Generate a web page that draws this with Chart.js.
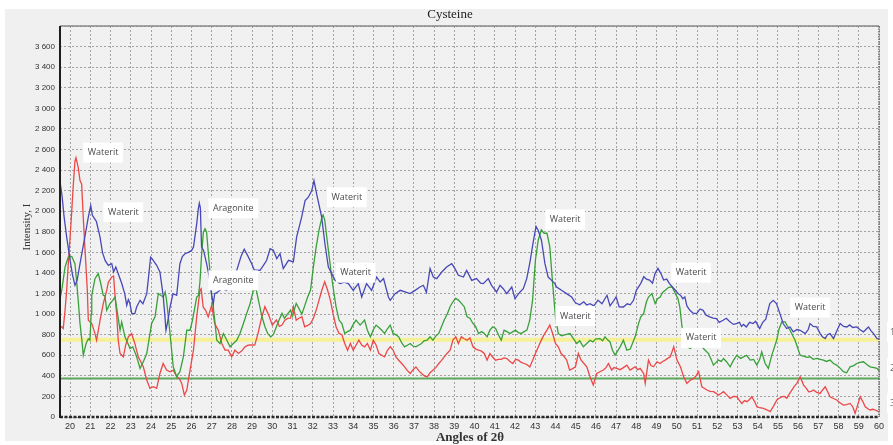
<!DOCTYPE html>
<html>
<head>
<meta charset="utf-8">
<title>Cysteine</title>
<script src="https://cdn.jsdelivr.net/npm/chart.js@4.4.1/dist/chart.umd.min.js"></script>
<style>
  html, body { margin: 0; padding: 0; background: #ffffff; }
  canvas { display: block; }
</style>
</head>
<body>
<canvas id="chart" width="893" height="445" style="width:893px;height:445px"></canvas>
<script>
// Diffraction scans, angle 2θ (degrees) against intensity I
const blueAngle = [19.52,19.6,19.7,19.83,20.0,20.12,20.24,20.35,20.49,20.7,20.9,21.02,21.1,21.2,21.3,21.48,21.6,21.73,21.89,22.06,22.15,22.26,22.35,22.55,22.7,22.8,22.88,22.95,23.05,23.2,23.29,23.46,23.6,23.79,23.9,23.98,24.05,24.28,24.44,24.6,24.68,24.74,24.85,24.94,25.09,25.27,25.43,25.55,25.68,25.85,26.01,26.1,26.26,26.34,26.39,26.44,26.5,26.6,26.75,26.88,27.0,27.08,27.15,27.3,27.41,27.5,27.74,28.0,28.24,28.45,28.61,28.75,28.98,29.1,29.39,29.56,29.72,29.89,30.05,30.22,30.38,30.54,30.8,31.04,31.2,31.45,31.62,31.78,31.95,32.06,32.19,32.44,32.6,32.77,32.94,33.1,33.35,33.55,33.76,34.0,34.25,34.42,34.66,34.91,35.16,35.33,35.5,35.74,35.83,36.07,36.32,36.56,36.81,37.06,37.3,37.47,37.62,37.8,37.96,38.13,38.38,38.62,38.87,39.03,39.2,39.45,39.61,39.86,40.1,40.3,40.43,40.68,40.84,41.09,41.26,41.42,41.59,41.84,42.0,42.25,42.41,42.58,42.74,42.9,43.04,43.15,43.31,43.48,43.64,43.81,43.97,44.06,44.3,44.55,44.8,44.99,45.2,45.4,45.55,45.71,45.9,46.1,46.3,46.55,46.7,46.85,47.0,47.15,47.36,47.55,47.7,47.86,48.0,48.22,48.37,48.5,48.65,48.8,48.93,49.07,49.21,49.35,49.5,49.63,49.77,49.92,50.06,50.2,50.3,50.4,50.5,50.65,50.8,50.98,51.15,51.3,51.45,51.63,51.8,51.96,52.1,52.29,52.45,52.6,52.8,52.95,53.1,53.2,53.3,53.44,53.6,53.77,53.9,54.1,54.25,54.4,54.6,54.77,54.93,55.1,55.26,55.43,55.6,55.76,55.95,56.1,56.35,56.5,56.59,56.75,56.92,57.09,57.2,57.34,57.45,57.58,57.75,57.9,58.08,58.25,58.41,58.55,58.7,58.9,59.05,59.23,59.35,59.48,59.6,59.73,59.9,60.0];
const blueIntensity = [2260,2150,1950,1748,1522,1380,1280,1330,1490,1720,1942,2055,1960,1930,1900,1748,1600,1522,1474,1490,1409,1457,1409,1300,1200,1086,1140,1110,1005,1005,1069,1134,1101,1199,1400,1554,1540,1474,1409,1182,1000,843,950,1069,1199,1182,1490,1560,1587,1600,1619,1651,1877,2023,2078,2036,1651,1619,1490,1361,1182,1101,1199,1215,1231,1247,1231,1330,1425,1560,1630,1580,1490,1430,1425,1474,1523,1636,1620,1540,1587,1442,1523,1507,1748,1942,2104,2136,2200,2298,2169,1942,1684,1457,1393,1328,1296,1310,1296,1231,1296,1166,1296,1231,1360,1312,1345,1166,1134,1199,1231,1215,1199,1231,1263,1280,1210,1442,1360,1345,1409,1458,1490,1442,1377,1360,1425,1328,1345,1300,1296,1345,1280,1215,1280,1247,1199,1263,1150,1215,1247,1345,1506,1700,1852,1813,1716,1490,1360,1328,1296,1263,1231,1199,1166,1110,1090,1120,1088,1102,1080,1136,1100,1183,1080,1120,1167,1070,1069,1100,1090,1134,1231,1299,1364,1340,1331,1300,1396,1445,1396,1331,1340,1299,1266,1234,1201,1180,1150,1167,1080,1037,1010,1005,1050,1037,990,973,960,956,920,940,960,930,900,908,920,880,900,875,920,908,930,860,920,950,1102,1134,1102,1005,908,860,875,827,850,843,811,850,908,880,875,811,780,762,800,811,762,830,908,880,875,895,870,875,850,827,850,875,840,811,762,760];

const greenAngle = [19.52,19.6,19.75,19.91,20.08,20.24,20.33,20.4,20.49,20.58,20.65,20.79,20.9,20.98,21.04,21.07,21.23,21.39,21.5,21.64,21.72,21.81,21.97,22.1,22.22,22.35,22.47,22.55,22.71,22.85,22.96,23.1,23.29,23.46,23.62,23.79,23.9,24.03,24.2,24.36,24.5,24.61,24.7,24.77,24.94,25.1,25.27,25.43,25.6,25.77,25.93,26.05,26.26,26.35,26.42,26.5,26.59,26.67,26.75,26.83,26.92,27.0,27.08,27.17,27.25,27.41,27.58,27.75,27.91,28.07,28.24,28.4,28.57,28.73,28.9,29.06,29.2,29.35,29.49,29.63,29.77,29.92,30.05,30.2,30.35,30.48,30.6,30.75,30.9,31.0,31.18,31.3,31.46,31.6,31.75,31.89,32.03,32.17,32.31,32.45,32.51,32.59,32.73,32.87,33.0,33.15,33.3,33.44,33.58,33.72,33.86,34.0,34.14,34.34,34.56,34.7,34.85,35.0,35.13,35.27,35.41,35.55,35.7,35.83,35.97,36.1,36.25,36.4,36.54,36.7,36.82,36.95,37.1,37.25,37.38,37.5,37.66,37.8,37.94,38.1,38.23,38.35,38.5,38.65,38.79,38.93,39.07,39.2,39.35,39.49,39.63,39.77,39.92,40.05,40.2,40.35,40.48,40.62,40.76,40.9,41.04,41.18,41.32,41.46,41.6,41.75,41.9,42.03,42.17,42.31,42.45,42.59,42.73,42.87,43.01,43.15,43.3,43.44,43.58,43.72,43.86,44.0,44.14,44.3,44.5,44.72,44.9,45.05,45.2,45.38,45.55,45.71,45.85,46.0,46.2,46.33,46.45,46.58,46.7,46.82,46.95,47.1,47.2,47.36,47.53,47.7,47.94,48.11,48.22,48.36,48.5,48.6,48.77,48.93,49.05,49.18,49.3,49.43,49.6,49.77,49.93,50.06,50.15,50.26,50.4,50.55,50.66,50.85,51.07,51.2,51.32,51.57,51.7,51.81,52.06,52.2,52.31,52.45,52.64,52.8,52.97,53.15,53.3,53.45,53.63,53.8,53.96,54.1,54.2,54.37,54.53,54.7,54.94,55.05,55.19,55.36,55.48,55.6,55.85,56.1,56.3,56.45,56.59,56.75,56.92,57.1,57.25,57.4,57.58,57.75,57.91,58.1,58.24,58.4,58.57,58.75,58.9,59.05,59.23,59.4,59.56,59.75,59.9,60.0];
const greenIntensity = [1166,1250,1458,1555,1561,1490,1300,1134,908,750,601,714,760,746,1000,1182,1344,1393,1312,1182,1180,1037,1101,1130,1166,1000,843,924,779,720,666,682,585,472,537,617,750,908,973,1199,1180,1166,1215,1134,811,488,392,440,585,843,843,940,1166,1182,1312,1571,1797,1829,1797,1603,1409,1182,1069,908,746,714,811,746,682,714,746,811,908,1005,1101,1231,1240,1100,974,880,812,779,800,877,950,1007,960,1000,1039,980,1104,1060,1000,1080,1169,1234,1461,1656,1818,1940,1964,1916,1688,1461,1266,1072,942,909,812,830,844,900,942,893,942,844,779,850,893,870,844,812,860,893,812,800,779,720,682,700,714,690,682,700,714,740,747,780,747,790,812,870,942,1000,1072,1120,1153,1136,1104,1072,974,960,909,880,812,830,812,779,844,877,860,800,747,844,830,812,830,844,820,812,830,844,942,1136,1526,1721,1818,1786,1786,1656,1299,974,812,790,800,811,760,714,740,682,714,746,730,760,762,740,779,750,730,649,601,650,682,746,649,660,779,908,974,1005,1120,1166,1199,1102,1150,1166,1210,1231,1260,1266,1199,1150,1069,875,750,680,666,690,682,700,666,617,560,504,553,540,569,540,488,550,601,570,585,600,553,560,504,560,633,520,472,601,746,850,924,924,880,843,746,601,590,580,585,560,569,560,553,540,553,520,504,470,440,430,488,500,520,530,537,510,488,480,472,450];

const redAngle = [19.52,19.58,19.66,19.75,19.83,19.91,20.05,20.16,20.24,20.29,20.4,20.49,20.57,20.65,20.74,20.85,20.9,21.07,21.23,21.31,21.48,21.64,21.81,21.89,22.06,22.15,22.22,22.3,22.38,22.47,22.63,22.75,22.88,23.04,23.2,23.37,23.62,23.79,23.95,24.11,24.28,24.44,24.6,24.77,24.94,25.1,25.27,25.4,25.52,25.65,25.77,25.93,26.1,26.26,26.42,26.48,26.58,26.7,26.83,27.0,27.15,27.33,27.5,27.66,27.82,27.99,28.15,28.32,28.48,28.65,28.8,28.96,29.13,29.29,29.45,29.63,29.8,30.0,30.2,30.35,30.48,30.62,30.76,30.9,31.04,31.18,31.32,31.46,31.6,31.75,31.89,32.03,32.17,32.31,32.45,32.59,32.73,32.87,33.0,33.15,33.3,33.44,33.58,33.72,33.86,34.0,34.14,34.28,34.42,34.56,34.7,34.85,34.99,35.13,35.27,35.41,35.55,35.69,35.83,35.97,36.11,36.25,36.4,36.54,36.68,36.82,36.96,37.1,37.24,37.38,37.52,37.66,37.8,37.94,38.08,38.23,38.37,38.5,38.65,38.79,38.93,39.07,39.2,39.35,39.49,39.63,39.77,39.92,40.06,40.2,40.34,40.48,40.62,40.76,40.9,41.04,41.18,41.32,41.46,41.6,41.75,41.89,42.03,42.17,42.31,42.45,42.59,42.73,42.87,43.01,43.15,43.3,43.44,43.58,43.72,43.86,44.0,44.14,44.28,44.42,44.56,44.7,44.85,44.99,45.13,45.27,45.41,45.55,45.71,45.87,46.04,46.2,46.37,46.5,46.62,46.78,46.9,47.03,47.2,47.36,47.53,47.69,47.8,47.94,48.07,48.19,48.36,48.44,48.6,48.72,48.85,49.02,49.18,49.3,49.43,49.55,49.68,49.85,50.01,50.18,50.34,50.5,50.67,50.8,50.92,51.08,51.24,51.36,51.49,51.65,51.82,51.95,52.06,52.2,52.31,52.45,52.64,52.8,52.97,53.1,53.22,53.35,53.47,53.6,53.71,53.85,53.96,54.1,54.29,54.45,54.62,54.8,54.95,55.05,55.2,55.32,55.44,55.55,55.69,55.82,55.94,56.1,56.27,56.4,56.52,56.65,56.76,56.92,57.09,57.2,57.34,57.45,57.58,57.75,57.91,58.05,58.24,58.4,58.57,58.7,58.82,58.95,59.07,59.2,59.32,59.45,59.56,59.7,59.81,59.9,59.98];
const redIntensity = [880,876,860,1037,1231,1490,1900,2265,2488,2520,2426,2297,2265,1942,1619,1231,940,908,811,746,940,1101,1231,1309,1361,1370,1182,1005,746,617,585,700,779,811,714,585,488,359,278,294,278,423,520,456,440,456,392,375,327,213,262,456,650,973,1231,1247,1069,1037,973,1086,908,843,714,650,650,585,650,617,640,682,698,700,698,811,950,1072,1000,893,942,880,893,940,958,960,1072,942,960,974,877,890,909,960,1039,1136,1234,1315,1234,1136,1007,877,812,800,714,649,714,649,700,747,700,682,714,649,747,700,617,600,584,649,682,650,584,552,520,487,450,422,460,487,450,422,400,390,430,455,480,520,550,584,620,649,747,779,714,779,760,747,770,682,660,649,640,617,552,617,580,552,560,560,575,568,540,520,560,552,530,520,510,487,550,617,680,747,800,844,893,812,714,682,617,590,552,455,470,487,617,552,520,487,391,310,423,440,456,480,520,456,480,472,460,480,504,456,470,488,460,472,423,327,553,500,488,537,520,540,553,570,585,682,553,488,391,327,359,370,391,440,294,280,262,250,246,230,213,230,246,220,181,200,197,160,132,160,149,170,197,150,100,90,84,70,52,110,165,180,197,200,181,220,262,300,327,391,310,280,246,250,262,240,229,260,294,250,197,180,165,140,116,120,132,100,36,120,197,150,100,80,68,75,68,60,52];

// Reference levels drawn across the whole scan
const levelValues = [750, 375];
const levelColors = ['rgba(246,240,140,0.9)', '#5aa85a'];
const levelWidths = [4, 2];

// Phase labels placed at (angle, intensity)
const noteLabels = ['Waterit','Waterit','Aragonite','Aragonite','Waterit','Waterit','Waterit','Waterit','Waterit','Waterit','Waterit'];
const noteAngles = [21.63, 22.63, 28.07, 28.07, 33.68, 34.12, 44.48, 44.98, 50.71, 51.2, 56.59];
const noteIntensities = [2569, 1990, 2029, 1328, 2136, 1403, 1920, 981, 1403, 769, 1064];

const xTicks = { min: 19.5, max: 60, step: 1 };
const yTicks = { min: 0, max: 3800, step: 200, lastLabel: 3600 };

function pairs(xs, ys) { return xs.map((x, i) => ({ x: x, y: ys[i] })); }

const datasets = [
  { label: '1', data: pairs(blueAngle, blueIntensity), borderColor: '#4848b8' },
  { label: '2', data: pairs(greenAngle, greenIntensity), borderColor: '#38a038' },
  { label: '3', data: pairs(redAngle, redIntensity), borderColor: '#ec4848' }
].map(d => Object.assign(d, { borderWidth: 1.3, pointRadius: 0, tension: 0, fill: false }));

levelValues.forEach((v, i) => {
  datasets.push({
    label: 'level' + i,
    data: [{ x: xTicks.min, y: v }, { x: xTicks.max, y: v }],
    borderColor: levelColors[i], borderWidth: levelWidths[i],
    pointRadius: 0, fill: false
  });
});

function fmtThousands(v) {
  const s = String(Math.round(v));
  return s.length > 3 ? s.slice(0, s.length - 3) + ' ' + s.slice(-3) : s;
}

const framePlugin = {
  id: 'frame',
  beforeDraw(chart) {
    const ctx = chart.ctx, a = chart.chartArea;
    ctx.save();
    ctx.fillStyle = '#ffffff';
    ctx.fillRect(0, 0, chart.width, chart.height);
    ctx.fillStyle = '#f0f0f0';
    ctx.fillRect(5, 9, 883, 432);
    ctx.fillStyle = '#f1f1f1';
    ctx.fillRect(a.left, a.top, a.right - a.left, a.bottom - a.top);
    ctx.restore();
  },
  afterDatasetsDraw(chart) {
    const ctx = chart.ctx, a = chart.chartArea;
    const xs = chart.scales.x, ys = chart.scales.y;
    ctx.save();
    // plot frame
    ctx.strokeStyle = '#8a8a8a'; ctx.lineWidth = 1.5;
    ctx.beginPath(); ctx.moveTo(a.left, a.top); ctx.lineTo(a.right, a.top); ctx.stroke();
    ctx.strokeStyle = '#666'; ctx.lineWidth = 1.5; ctx.setLineDash([1.5, 1]);
    ctx.beginPath(); ctx.moveTo(a.right, a.top); ctx.lineTo(a.right, a.bottom); ctx.stroke();
    ctx.strokeStyle = '#2a2a2a'; ctx.lineWidth = 2.5; ctx.setLineDash([3, 1.5]);
    ctx.beginPath(); ctx.moveTo(a.left, a.bottom); ctx.lineTo(a.right, a.bottom); ctx.stroke();
    ctx.setLineDash([]);
    ctx.strokeStyle = '#1e1e1e'; ctx.lineWidth = 2;
    ctx.beginPath(); ctx.moveTo(a.left, a.top); ctx.lineTo(a.left, a.bottom + 1); ctx.stroke();

    // phase labels
    ctx.font = '9px "Open Sans", "Noto Sans", sans-serif';
    ctx.textAlign = 'center'; ctx.textBaseline = 'middle';
    noteLabels.forEach((t, i) => {
      const cx = xs.getPixelForValue(noteAngles[i]);
      const cy = ys.getPixelForValue(noteIntensities[i]);
      const w = ctx.measureText(t).width + 9, h = 20;
      ctx.fillStyle = '#ffffff';
      ctx.fillRect(cx - w / 2, cy - h / 2, w, h);
      ctx.fillStyle = '#4a4a4a';
      ctx.fillText(t, cx, cy);
    });

    // partially visible series keys at the right edge
    const keyY = [332, 368, 403];
    keyY.forEach((y, i) => {
      ctx.fillStyle = '#ffffff';
      ctx.fillRect(887, y - 10, 10, 20);
      ctx.fillStyle = '#666';
      ctx.textAlign = 'left';
      ctx.fillText(datasets[i].label, 890, y);
    });

    // titles
    ctx.fillStyle = '#222';
    ctx.textAlign = 'center'; ctx.textBaseline = 'middle';
    ctx.font = '13px "Liberation Serif", "Times New Roman", serif';
    ctx.fillText('Cysteine', 450, 15);
    ctx.font = 'bold 13px "Liberation Serif", "Times New Roman", serif';
    ctx.fillStyle = '#333';
    ctx.fillText('Angles of 2θ', 470, 438);
    ctx.save();
    ctx.translate(27, 227);
    ctx.rotate(-Math.PI / 2);
    ctx.font = '11px "Liberation Serif", "Times New Roman", serif';
    ctx.fillStyle = '#333';
    ctx.fillText('Intensity, I', 0, 0);
    ctx.restore();
    ctx.restore();
  }
};

new Chart(document.getElementById('chart'), {
  type: 'line',
  data: { datasets: datasets },
  plugins: [framePlugin],
  options: {
    responsive: false,
    animation: false,
    devicePixelRatio: 1,
    layout: { padding: { top: 26, right: 14, bottom: 0, left: 0 } },
    plugins: { legend: { display: false }, tooltip: { enabled: false }, title: { display: false } },
    scales: {
      x: {
        type: 'linear', min: xTicks.min, max: xTicks.max,
        afterFit(s) { s.height = 28; },
        ticks: {
          stepSize: xTicks.step, autoSkip: false, includeBounds: false, maxRotation: 0,
          padding: 4, color: '#333',
          font: { family: '"Liberation Sans", Arial, sans-serif', size: 9 },
          callback: v => (Number.isInteger(v) ? String(v) : '')
        },
        grid: { color: '#a2a2a2', lineWidth: 1, drawTicks: false },
        border: { display: false, dash: [2, 2] }
      },
      y: {
        type: 'linear', min: yTicks.min, max: yTicks.max,
        afterFit(s) { s.width = 60; },
        ticks: {
          stepSize: yTicks.step, padding: 5, color: '#333',
          font: { family: '"Liberation Sans", Arial, sans-serif', size: 8 },
          callback: v => (v > yTicks.lastLabel ? '' : fmtThousands(v))
        },
        grid: { color: '#a2a2a2', lineWidth: 1, drawTicks: false },
        border: { display: false, dash: [2, 2] }
      }
    }
  }
});
</script>
</body>
</html>
